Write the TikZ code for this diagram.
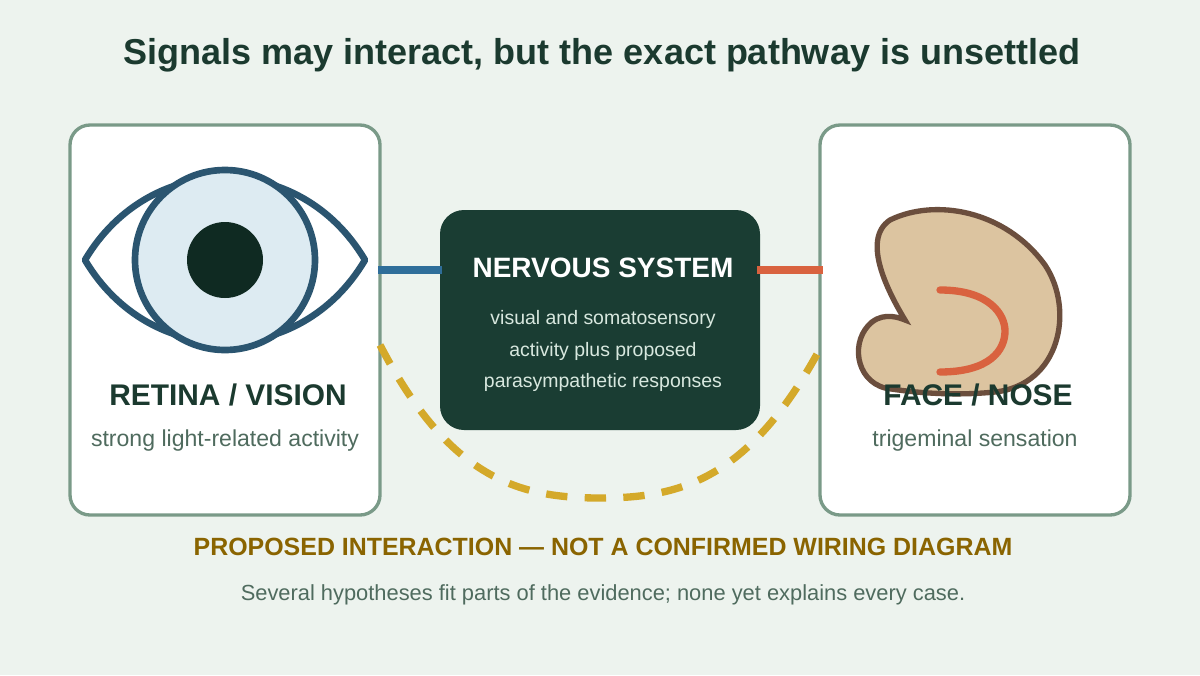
\documentclass[tikz,border=0pt]{standalone}
\usepackage{fontspec}
\setmainfont{Liberation Sans}
\begin{document}
\begin{tikzpicture}[x=0.75pt,y=-0.75pt,
  card/.style={draw=cardline,line width=2.5pt,fill=white,rounded corners=15pt},
  lbl/.style={font=\bfseries\fontsize{22.4}{26}\selectfont,text=title},
  sub/.style={font=\fontsize{17.3}{20}\selectfont,text=subtxt}]
\definecolor{bg}{HTML}{EDF3EE}
\definecolor{title}{HTML}{1B3A2F}
\definecolor{cardline}{HTML}{7A9A88}
\definecolor{ns}{HTML}{1A3D33}
\definecolor{nstxt}{HTML}{D8E8DF}
\definecolor{blue}{HTML}{2F6E9A}
\definecolor{orng}{HTML}{D9623F}
\definecolor{gold}{HTML}{D4A92A}
\definecolor{eye}{HTML}{2B5570}
\definecolor{iris}{HTML}{DDEBF2}
\definecolor{pupil}{HTML}{0F2A22}
\definecolor{skin}{HTML}{DCC4A0}
\definecolor{skinl}{HTML}{6B4E3D}
\definecolor{subtxt}{HTML}{4F6B5E}
\definecolor{warn}{HTML}{8A6400}
\fill[bg] (0,0) rectangle (1200,675);
\useasboundingbox (0,0) rectangle (1200,675);
\node[font=\bfseries\fontsize{27}{32}\selectfont,text=title] (t) at (602,55) {Signals may interact, but the exact pathway is unsettled};
\draw[card] (70,125) rectangle (380,515);
\draw[card] (820,125) rectangle (1130,515);
\node[fill=ns,rounded corners=18pt,minimum width=320*0.75pt,minimum height=220*0.75pt] (n) at (600,320) {};
\node[font=\bfseries\fontsize{21}{24}\selectfont,text=white] (nt) at (603,268) {NERVOUS SYSTEM};
\node[font=\fontsize{14.6}{23.5}\selectfont,text=nstxt,align=center] (ns) at (603,351) {visual and somatosensory\\activity plus proposed\\parasympathetic responses};
\coordinate (bl) at (378,270); \coordinate (br) at (442,270);
\coordinate (ol) at (757,270); \coordinate (or) at (823,270);
\draw[blue,line width=6pt] (bl) -- (br);
\draw[orng,line width=6pt] (ol) -- (or);
\coordinate (g1) at (380,345); \coordinate (g2) at (822,345);
\draw[gold,line width=5.5pt,dash pattern=on 16pt off 13pt] (g1) .. controls (450,480) and (520,498) .. (600,498) .. controls (680,498) and (750,480) .. (g2);
% eye
\draw[eye,line width=5pt,line join=round] (85,260) .. controls (150,150) and (300,150) .. (365,260) .. controls (300,370) and (150,370) .. cycle;
\node[circle,draw=eye,line width=5pt,fill=iris,minimum size=180*0.75pt] (iris) at (225,260) {};
\node[circle,fill=pupil,minimum size=76*0.75pt] (pup) at (225,260) {};
\node[lbl] (rl) at (228,395) {RETINA / VISION};
\node[sub] (rs) at (225,441) {strong light-related activity};
% face
\draw[skinl,fill=skin,line width=4pt] (890,220) .. controls (935,198) and (1005,210) .. (1045,265) .. controls (1075,310) and (1060,385) .. (995,392) .. controls (955,396) and (915,393) .. (885,388) .. controls (855,380) and (850,340) .. (872,322) .. controls (885,312) and (900,318) .. (905,320) .. controls (890,295) and (860,240) .. cycle;
\draw[orng,line width=5.5pt,line cap=round] (940,290) .. controls (990,290) and (1005,315) .. (1005,331) .. controls (1005,350) and (990,372) .. (940,372);
\node[lbl] (fl) at (978,395) {FACE / NOSE};
\node[sub] (fs) at (975,441) {trigeminal sensation};
\node[font=\bfseries\fontsize{18.7}{22}\selectfont,text=warn] (w) at (603,547) {PROPOSED INTERACTION — NOT A CONFIRMED WIRING DIAGRAM};
\node[font=\fontsize{16.4}{19}\selectfont,text=subtxt] (f) at (603,595) {Several hypotheses fit parts of the evidence; none yet explains every case.};
\end{tikzpicture}
\end{document}
